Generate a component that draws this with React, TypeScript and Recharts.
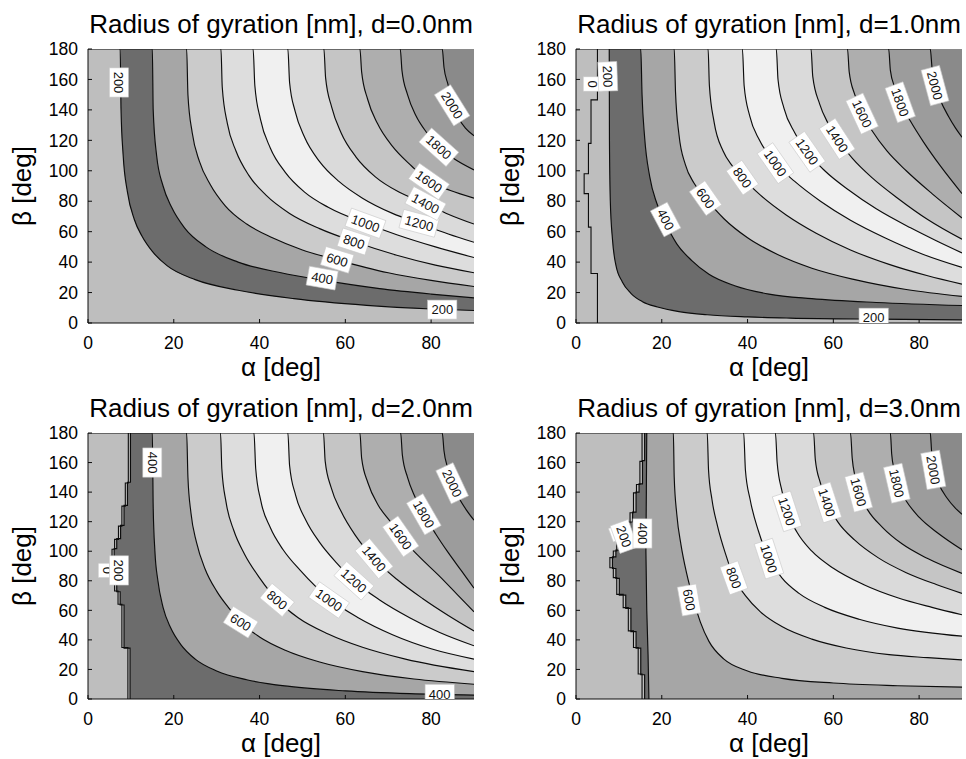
import { ComposedChart, Area, Line, Scatter, XAxis, YAxis } from 'recharts';

const ALPHA_TICKS = [0, 20, 40, 60, 80];
const BETA_TICKS = [0, 20, 40, 60, 80, 100, 120, 140, 160, 180];
const LEVELS = [200, 400, 600, 800, 1000, 1200, 1400, 1600, 1800, 2000];
// band fills: index 0 = below 200 ... index 10 = above 2000
const BAND_FILLS = ['#bebebe', '#6c6c6c', '#a6a6a6', '#cbcbcb', '#dddddd', '#f0f0f0', '#dadada', '#c5c5c5', '#aeaeae', '#9c9c9c', '#8a8a8a'];

// contour lines, [alpha, beta] in degrees -- d = 0.0 nm
const A_200 = [[0, 180], [7.5, 180], [7.7, 140], [8.2, 110], [9.2, 86], [10.8, 68], [12.6, 57], [15, 47], [18.5, 37.5], [25, 28.5], [35, 21.5], [48, 16], [65, 11.6], [80, 9.2], [90, 8.2]];
const A_400 = [[0, 180], [15, 180], [15.2, 140], [16, 110], [17.5, 90], [19.5, 76], [22.5, 62.5], [27.5, 50], [35, 40], [45, 33], [55, 28], [68, 22.6], [80, 19], [90, 16.5]];
const A_600 = [[0, 180], [23, 180], [23.3, 150], [24.3, 125], [26, 106], [28.5, 91], [32, 77], [37, 65], [43, 56], [50, 48], [58, 41.5], [70, 33], [80, 28], [90, 24]];
const A_800 = [[0, 180], [31, 180], [31.3, 155], [32.5, 131], [34.5, 113], [37.5, 97], [41.5, 84], [47, 72], [54, 62], [62, 53.5], [72, 44.5], [81, 38], [90, 33]];
const A_1000 = [[0, 180], [38.5, 180], [38.9, 156], [40.2, 134], [42.5, 115], [46, 99], [50.5, 86], [56, 76], [64.7, 65.5], [72, 58], [81, 50], [90, 43]];
const A_1200 = [[0, 180], [46.6, 180], [47, 158], [48.3, 139], [50.5, 122], [54, 106], [58.5, 93], [64, 82], [71, 72], [77.2, 65.5], [84, 58.5], [90, 53]];
const A_1400 = [[0, 180], [55, 180], [55.4, 161], [56.8, 142], [59, 125], [62.5, 109], [67, 96], [72.5, 86], [78.7, 78.5], [84, 71.5], [90, 65]];
const A_1600 = [[0, 180], [63.4, 180], [63.8, 165], [65.2, 147], [67.5, 131], [71, 116], [75.5, 103], [79.5, 93], [84.5, 87], [90, 82]];
const A_1800 = [[0, 180], [72.8, 180], [73.2, 166], [74.5, 150], [76.5, 136], [79, 125], [81.8, 115.5], [85, 108.5], [90, 100.5]];
const A_2000 = [[0, 180], [82.6, 180], [83, 168], [84, 156], [84.9, 143], [86.5, 134], [88, 128], [90, 123]];
const A_LABELS = [
  { a: 7.2, b: 158, text: '200', angle: 90 },
  { a: 54.6, b: 29.5, text: '400', angle: 10 },
  { a: 58.1, b: 41.5, text: '600', angle: 17 },
  { a: 62, b: 53.5, text: '800', angle: 18 },
  { a: 64.7, b: 65.5, text: '1000', angle: 20 },
  { a: 77.2, b: 65.5, text: '1200', angle: 15 },
  { a: 78.7, b: 78.5, text: '1400', angle: 28 },
  { a: 79.5, b: 93, text: '1600', angle: 35 },
  { a: 81.8, b: 115.5, text: '1800', angle: 42 },
  { a: 84.9, b: 143, text: '2000', angle: 58 },
  { a: 82.6, b: 8.8, text: '200', angle: 0 },
];

// d = 1.0 nm
const B_0 = [[5, 180], [5, 146.6], [3.5, 146.6], [3.5, 118], [2.9, 118], [2.9, 98], [1.9, 98], [1.9, 85], [2.9, 85], [2.9, 63], [3.5, 63], [3.5, 32.5], [5, 32.5], [5, 0]];
const B_200 = [[0, 180], [7.75, 180], [7.8, 120], [8, 80], [8.5, 55], [9.3, 38], [10.8, 27], [12.8, 19.5], [15.5, 14], [19, 10.5], [24, 7.5], [30.6, 5.4], [40, 4], [50, 3.2], [70, 2.5], [90, 2.1]];
const B_400 = [[0, 180], [15.1, 180], [15.4, 150], [16, 122], [17.2, 96], [18.8, 79], [20.8, 66], [23.5, 52], [27, 41], [31, 32], [37, 24.5], [45, 19], [55, 16], [70, 13.5], [90, 11.5]];
const B_600 = [[0, 180], [22.9, 180], [23.2, 152], [24, 124], [25.5, 104], [27.5, 92], [30.2, 82], [34.5, 68.5], [40, 56], [47, 45], [55, 36], [65, 28.5], [77, 22], [90, 17.5]];
const B_800 = [[0, 180], [30.8, 180], [31.1, 156], [32.2, 132], [34.3, 113], [36.5, 103], [38.8, 95.5], [43, 84], [49, 71], [56, 59], [64, 48], [73, 38.5], [82, 31], [90, 25.5]];
const B_1000 = [[0, 180], [38.8, 180], [39.2, 156], [40.5, 136], [42.8, 120], [46.5, 105], [51, 93], [57, 80], [64, 67.5], [72, 56], [81, 45], [90, 36.5]];
const B_1200 = [[0, 180], [46.7, 180], [47.1, 160], [48.5, 141], [51, 125], [53.9, 112.5], [58, 100], [63.5, 87.5], [70, 75], [78, 62.5], [84, 54], [90, 46]];
const B_1400 = [[0, 180], [54.8, 180], [55.2, 162], [56.8, 144], [58.8, 131], [60.9, 121], [64.5, 108], [69, 95.5], [75, 82], [82, 68], [90, 55]];
const B_1600 = [[0, 180], [63.3, 180], [63.7, 165], [65, 150], [66.7, 137.5], [69, 126.5], [72.5, 113], [77, 100], [83, 85], [90, 69]];
const B_1800 = [[0, 180], [72.9, 180], [73.3, 166], [74.3, 155], [75.6, 145], [78, 132.5], [81, 119], [85, 103], [90, 85]];
const B_2000 = [[0, 180], [82.6, 180], [83, 168], [83.7, 156], [85, 146], [86.8, 136], [88.5, 128], [90, 122]];
const B_LABELS = [
  { a: 3.9, b: 157, text: '0', angle: 90 },
  { a: 7.4, b: 162, text: '200', angle: 88 },
  { a: 20.9, b: 68, text: '400', angle: 62 },
  { a: 30.2, b: 82, text: '600', angle: 55 },
  { a: 38.8, b: 95.5, text: '800', angle: 55 },
  { a: 46.5, b: 105, text: '1000', angle: 55 },
  { a: 53.9, b: 112.5, text: '1200', angle: 55 },
  { a: 60.9, b: 121, text: '1400', angle: 57 },
  { a: 66.7, b: 137.5, text: '1600', angle: 65 },
  { a: 75.6, b: 145, text: '1800', angle: 70 },
  { a: 83.7, b: 156, text: '2000', angle: 75 },
  { a: 69.4, b: 3.5, text: '200', angle: 0 },
];

// d = 2.0 nm
const C_200 = [[0, 180], [9.9, 180], [9.9, 146.7], [9.2, 146.7], [9.2, 131], [8.4, 131], [8.4, 117.5], [7.6, 117.5], [7.6, 108.5], [6.7, 108.5], [6.7, 101.8], [6.1, 101.8], [6.1, 79.3], [6.7, 79.3], [6.7, 72.6], [7.5, 72.6], [7.5, 63.6], [8.4, 63.6], [8.4, 34.4], [9.8, 34.4], [9.8, 0]];
const C_0 = [[9.4, 180], [9.4, 146.2], [8.7, 146.2], [8.7, 130.5], [7.9, 130.5], [7.9, 117], [7.1, 117], [7.1, 108], [6.2, 108], [6.2, 101.3], [5.6, 101.3], [5.6, 79.8], [6.2, 79.8], [6.2, 73.1], [7, 73.1], [7, 64.1], [7.9, 64.1], [7.9, 34.9], [9.3, 34.9], [9.3, 0]];
const C_400 = [[0, 180], [15, 180], [15.2, 130], [15.6, 100], [16.3, 80], [17.5, 62], [19.3, 48], [21.6, 37], [25, 27], [30, 19], [37, 13], [47, 8.5], [60, 5.5], [75, 3.6], [90, 2.6]];
const C_600 = [[0, 180], [23, 180], [23.3, 150], [24, 126], [25.3, 106], [27.3, 88], [30, 73], [33, 61], [35.6, 52], [40, 42], [46, 33], [54, 25], [64, 18.5], [76, 13.5], [90, 10]];
const C_800 = [[0, 180], [30.9, 180], [31.2, 156], [32.2, 133], [34, 114], [36.5, 98], [40, 82], [44.1, 67], [49, 55], [56, 44], [64, 35], [74, 27], [90, 18.5]];
const C_1000 = [[0, 180], [38.7, 180], [39.1, 156], [40.3, 134], [42.5, 116], [45.5, 101], [49.5, 87], [56.2, 68], [63, 55], [71, 43.5], [80, 34], [90, 27]];
const C_1200 = [[0, 180], [46.6, 180], [47, 158], [48.4, 138], [50.8, 121], [54, 106], [58, 92], [62, 80], [68, 67], [75, 55], [82, 45], [90, 36]];
const C_1400 = [[0, 180], [54.9, 180], [55.3, 161], [56.7, 143], [59, 127], [62.5, 110], [66.7, 95], [72, 81], [78, 68], [84, 56.5], [90, 46]];
const C_1600 = [[0, 180], [63.4, 180], [63.8, 163], [65.3, 146], [67.7, 131], [70.5, 120], [72.9, 110], [77, 97], [82, 83], [86, 71], [90, 59]];
const C_1800 = [[0, 180], [72.9, 180], [73.3, 165], [74.5, 150], [76.2, 137], [78.3, 125], [81, 112], [84, 99], [87, 87], [90, 75]];
const C_2000 = [[0, 180], [82.6, 180], [83, 168], [83.9, 156], [84.9, 146], [86.5, 136], [88.2, 128], [90, 121]];
const C_LABELS = [
  { a: 15, b: 160, text: '400', angle: 90 },
  { a: 4.6, b: 87, text: '0', angle: 90 },
  { a: 7.2, b: 87, text: '200', angle: 90 },
  { a: 35.6, b: 52, text: '600', angle: 32 },
  { a: 44.1, b: 67, text: '800', angle: 40 },
  { a: 56.2, b: 67, text: '1000', angle: 35 },
  { a: 62, b: 80, text: '1200', angle: 42 },
  { a: 66.7, b: 95, text: '1400', angle: 50 },
  { a: 72.9, b: 110, text: '1600', angle: 55 },
  { a: 78.3, b: 125, text: '1800', angle: 60 },
  { a: 84.9, b: 146, text: '2000', angle: 65 },
  { a: 82, b: 3.5, text: '400', angle: 0 },
];

// d = 3.0 nm
const D_200 = [[0, 180], [16, 180], [16, 161.3], [15.5, 161.3], [15.5, 145.6], [14.7, 145.6], [14.7, 140], [14, 140], [14, 126.5], [13.2, 126.5], [13.2, 119.8], [12.2, 119.8], [12.2, 113], [11.2, 113], [11.2, 106.3], [10.1, 106.3], [10.1, 100.7], [9.3, 100.7], [9.3, 96.2], [8.5, 96.2], [8.5, 88.3], [9.3, 88.3], [9.3, 81.6], [10.1, 81.6], [10.1, 70.3], [11.6, 70.3], [11.6, 61.3], [12.8, 61.3], [12.8, 45.6], [14, 45.6], [14, 34.4], [15.1, 34.4], [15.1, 16.4], [16, 16.4], [16, 0]];
const D_0 = [[15.4, 180], [15.4, 160.8], [14.9, 160.8], [14.9, 145.1], [14.1, 145.1], [14.1, 139.5], [13.4, 139.5], [13.4, 126], [12.6, 126], [12.6, 119.3], [11.6, 119.3], [11.6, 112.5], [10.6, 112.5], [10.6, 105.8], [9.5, 105.8], [9.5, 100.2], [8.7, 100.2], [8.7, 95.7], [7.9, 95.7], [7.9, 88.8], [8.7, 88.8], [8.7, 82.1], [9.5, 82.1], [9.5, 70.8], [11, 70.8], [11, 61.8], [12.2, 61.8], [12.2, 46.1], [13.4, 46.1], [13.4, 34.9], [14.5, 34.9], [14.5, 16.9], [15.4, 16.9], [15.4, 0]];
const D_400 = [[0, 180], [16.5, 180], [16.4, 140], [16.3, 100], [16.5, 60], [16.8, 30], [17, 0]];
const D_600 = [[0, 180], [22.7, 180], [22.9, 150], [23.5, 125], [24.5, 104], [25.8, 85], [27.5, 66], [29, 52], [31, 39], [34.5, 27], [40, 19], [48, 14], [60, 10.8], [75, 9], [90, 8]];
const D_800 = [[0, 180], [30.6, 180], [30.9, 155], [31.7, 135], [33, 117], [35, 97], [36.8, 82], [39.5, 70], [43, 59], [48, 49], [55, 40.5], [63, 34.5], [73, 30], [82, 28], [90, 26.5]];
const D_1000 = [[0, 180], [39.1, 180], [39.5, 155], [40.6, 135], [42.5, 114], [45, 95], [48, 82], [52, 71.5], [58, 62], [66, 54], [75, 48], [90, 42.5]];
const D_1200 = [[0, 180], [46.5, 180], [46.9, 160], [48, 141], [49.2, 127], [51.5, 113], [55, 100], [60, 88.5], [67, 77.5], [75, 68.5], [83, 62], [90, 57]];
const D_1400 = [[0, 180], [55.4, 180], [55.8, 162], [57, 146], [58.5, 133], [61, 120], [65, 107.5], [70.5, 95.5], [77, 85.5], [84, 77.5], [90, 71.5]];
const D_1600 = [[0, 180], [64, 180], [64.4, 163], [65.1, 150], [65.9, 140], [68, 128], [71.5, 116], [76, 105], [82, 95], [90, 85]];
const D_1800 = [[0, 180], [73.3, 180], [73.6, 166], [74.2, 155], [74.8, 146], [77, 134], [80, 123], [84.5, 112], [90, 101]];
const D_2000 = [[0, 180], [82.6, 180], [82.9, 168], [83.3, 156], [84.5, 146], [86.5, 136], [88.5, 129], [90, 125]];
const D_LABELS = [
  { a: 10.2, b: 113, text: '0', angle: 70 },
  { a: 11.2, b: 110, text: '200', angle: 70 },
  { a: 15.5, b: 112, text: '400', angle: 90 },
  { a: 26.4, b: 67, text: '600', angle: 80 },
  { a: 36.8, b: 82, text: '800', angle: 70 },
  { a: 45, b: 95, text: '1000', angle: 72 },
  { a: 49.2, b: 127, text: '1200', angle: 72 },
  { a: 58.5, b: 133, text: '1400', angle: 72 },
  { a: 65.9, b: 140, text: '1600', angle: 75 },
  { a: 74.8, b: 146, text: '1800', angle: 77 },
  { a: 83.3, b: 155, text: '2000', angle: 80 },
];

const FULL = [[0, 180], [90, 180]];
const FONT = '"Liberation Sans", Arial, Helvetica, sans-serif';
const INK = '#0c0c0c';

const PANELS = [
  { title: 'Radius of gyration [nm], d=0.0nm', left: 0, top: 49, h: 274,
    contours: [A_200, A_400, A_600, A_800, A_1000, A_1200, A_1400, A_1600, A_1800, A_2000],
    steps: [], extra: [], labels: A_LABELS },
  { title: 'Radius of gyration [nm], d=1.0nm', left: 488, top: 49, h: 274,
    contours: [B_200, B_400, B_600, B_800, B_1000, B_1200, B_1400, B_1600, B_1800, B_2000],
    steps: [], extra: [B_0], labels: B_LABELS },
  { title: 'Radius of gyration [nm], d=2.0nm', left: 0, top: 433, h: 266,
    contours: [C_200, C_400, C_600, C_800, C_1000, C_1200, C_1400, C_1600, C_1800, C_2000],
    steps: [200], extra: [C_0], labels: C_LABELS },
  { title: 'Radius of gyration [nm], d=3.0nm', left: 488, top: 433, h: 266,
    contours: [D_200, D_400, D_600, D_800, D_1000, D_1200, D_1400, D_1600, D_1800, D_2000],
    steps: [200, 400], extra: [D_0], labels: D_LABELS },
];

const rows = (pts: number[][]) => pts.map(([a, b]) => ({ a, b }));

function ContourLabel(props: any) {
  const { cx, cy, payload } = props;
  if (cx == null || cy == null) return null;
  const w = payload.text.length * 7.4 + 7;
  return (
    <g transform={`translate(${cx},${cy}) rotate(${payload.angle})`}>
      <rect x={-w / 2} y={-9.5} width={w} height={19} fill="#fff" stroke="#c8c8c8" strokeWidth={0.6} />
      <text x={0} y={0} dy="0.36em" textAnchor="middle" fontSize={13} fontFamily={FONT} fill="#111">
        {payload.text}
      </text>
    </g>
  );
}

const PLOT_W = 386;
const AXIS_W = 88;

function Panel({ p }: { p: (typeof PANELS)[number] }) {
  const plotLeft = p.left + AXIS_W;
  const tick = { fill: '#000', fontSize: 17.5, fontFamily: FONT };
  const order = LEVELS.map((_, i) => i).reverse();

  return (
    <>
      <div style={{
        position: 'absolute', left: plotLeft - 20, width: PLOT_W + 40, top: p.top - 40,
        textAlign: 'center', fontFamily: FONT, fontSize: 26, lineHeight: '30px', color: '#000',
        whiteSpace: 'nowrap',
      }}>
        {p.title}
      </div>
      <div style={{ position: 'absolute', left: p.left, top: p.top - 10 }}>
        <ComposedChart width={AXIS_W + PLOT_W + 2} height={p.h + 70}
          margin={{ top: 10, right: 2, bottom: 0, left: 0 }}>
          <Area data={rows(FULL)} dataKey="b" type="linear" fill={BAND_FILLS[10]} fillOpacity={1}
            stroke="none" isAnimationActive={false} />
          {order.map(i => (
            <Area key={LEVELS[i]} data={rows(p.contours[i])} dataKey="b"
              type={p.steps.includes(LEVELS[i]) ? 'linear' : 'monotone'}
              fill={BAND_FILLS[i]} fillOpacity={1} stroke={INK} strokeWidth={1.15}
              isAnimationActive={false} dot={false} activeDot={false} />
          ))}
          {p.extra.map((pts, k) => (
            <Line key={`x${k}`} data={rows(pts)} dataKey="b" type="linear" stroke={INK}
              strokeWidth={1.1} dot={false} activeDot={false} isAnimationActive={false} />
          ))}
          <Scatter data={p.labels} dataKey="b" shape={ContourLabel} isAnimationActive={false} />
          <XAxis dataKey="a" type="number" domain={[0, 90]} ticks={ALPHA_TICKS} interval={0}
            allowDataOverflow height={60} tickSize={-4} tickMargin={18} tick={tick}
            axisLine={{ stroke: INK }} tickLine={{ stroke: INK }} />
          <XAxis xAxisId="top" orientation="top" type="number" domain={[0, 90]} ticks={ALPHA_TICKS}
            interval={0} height={0} tickSize={-4} tickFormatter={() => ''}
            axisLine={{ stroke: INK }} tickLine={{ stroke: INK }} />
          <YAxis dataKey="b" type="number" domain={[0, 180]} ticks={BETA_TICKS} interval={0}
            allowDataOverflow width={AXIS_W} tickSize={-4} tickMargin={14} tick={tick}
            axisLine={{ stroke: INK }} tickLine={{ stroke: INK }} />
          <YAxis yAxisId="right" orientation="right" type="number" domain={[0, 180]} ticks={BETA_TICKS}
            interval={0} width={0} tickSize={-4} tickFormatter={() => ''}
            axisLine={{ stroke: INK }} tickLine={{ stroke: INK }} />
        </ComposedChart>
      </div>
      <div style={{
        position: 'absolute', left: plotLeft, width: PLOT_W, top: p.top + p.h + 31,
        textAlign: 'center', fontFamily: FONT, fontSize: 26, lineHeight: '26px', color: '#000',
      }}>
        α [deg]
      </div>
      <div style={{
        position: 'absolute', left: plotLeft - 66 - 100, top: p.top + p.h / 2 - 13, width: 200,
        textAlign: 'center', fontFamily: FONT, fontSize: 26, lineHeight: '26px', color: '#000',
        transform: 'rotate(-90deg)',
      }}>
        β [deg]
      </div>
    </>
  );
}

export default function App() {
  return (
    <div style={{
      position: 'absolute', left: 0, top: 0, width: 966, height: 759,
      background: '#fff', overflow: 'hidden',
    }}>
      {PANELS.map(p => <Panel key={p.title} p={p} />)}
    </div>
  );
}
